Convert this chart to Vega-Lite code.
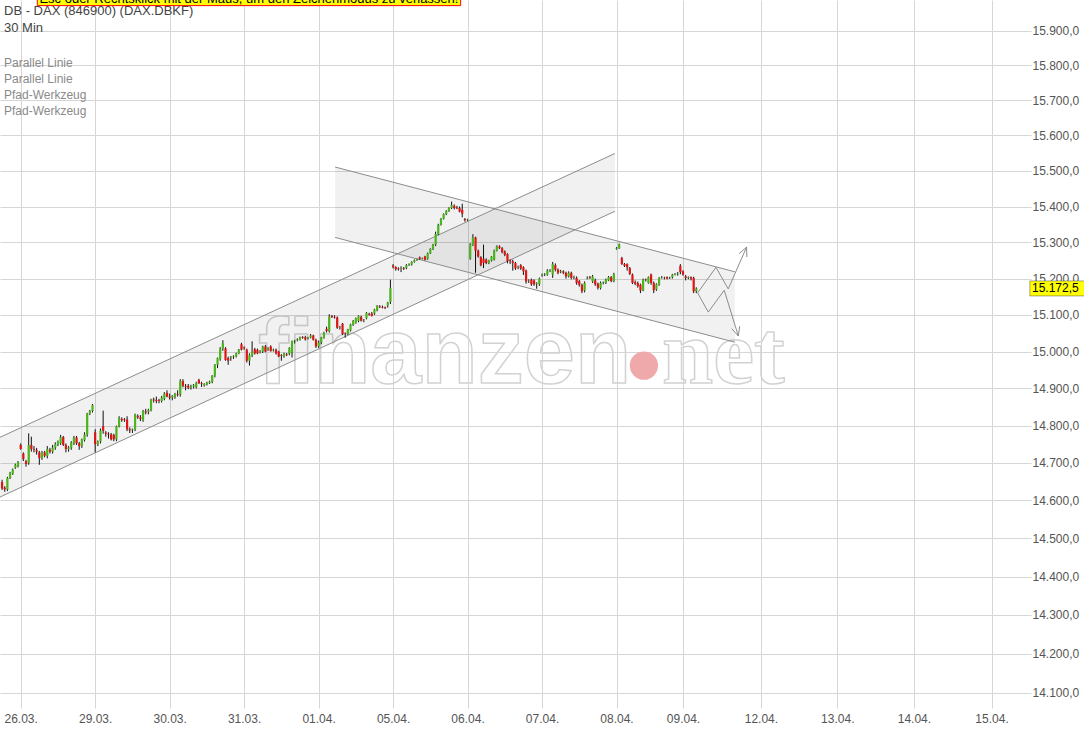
{
"$schema": "https://vega.github.io/schema/vega-lite/v6.json",
"width": 1028, "height": 708,
"autosize": {"type": "none"},
"padding": {"left": 0, "top": 0, "right": 56, "bottom": 23},
"background": "#ffffff",
"config": {"view": {"stroke": null}, "font": "Liberation Sans", "scale": {"continuousPadding": 0}},
"datasets": {
"candles": [
{"s":-7,"o":14649,"h":14655,"l":14628,"c":14632},{"s":-6,"o":14634,"h":14638,"l":14623,"c":14630},{"s":-5,"o":14629,"h":14663,"l":14625,"c":14660},{"s":-4,"o":14660,"h":14676,"l":14657,"c":14673},{"s":-3,"o":14671,"h":14685,"l":14668,"c":14682},{"s":-2,"o":14687,"h":14698,"l":14684,"c":14695},{"s":-1,"o":14691,"h":14705,"l":14688,"c":14702},
{"s":0,"o":14748,"h":14752,"l":14735,"c":14737},{"s":1,"o":14725,"h":14728,"l":14705,"c":14710},{"s":2,"o":14704,"h":14708,"l":14690,"c":14697},{"s":3,"o":14700,"h":14779,"l":14695,"c":14748},{"s":4,"o":14748,"h":14770,"l":14730,"c":14737},{"s":5,"o":14737,"h":14745,"l":14728,"c":14735},{"s":6,"o":14734,"h":14740,"l":14722,"c":14730},{"s":7,"o":14728,"h":14732,"l":14695,"c":14713},{"s":8,"o":14713,"h":14732,"l":14708,"c":14728},{"s":9,"o":14728,"h":14732,"l":14715,"c":14719},{"s":10,"o":14719,"h":14745,"l":14712,"c":14737},{"s":11,"o":14735,"h":14740,"l":14725,"c":14730},{"s":12,"o":14730,"h":14748,"l":14725,"c":14741},{"s":13,"o":14741,"h":14755,"l":14735,"c":14750},{"s":14,"o":14750,"h":14760,"l":14745,"c":14757},{"s":15,"o":14752,"h":14775,"l":14748,"c":14769},{"s":16,"o":14769,"h":14772,"l":14745,"c":14748},{"s":17,"o":14748,"h":14752,"l":14728,"c":14737},{"s":18,"o":14737,"h":14745,"l":14730,"c":14741},{"s":19,"o":14741,"h":14758,"l":14735,"c":14754},{"s":20,"o":14752,"h":14772,"l":14748,"c":14768},{"s":21,"o":14768,"h":14772,"l":14748,"c":14752},{"s":22,"o":14752,"h":14756,"l":14735,"c":14745},{"s":23,"o":14745,"h":14765,"l":14740,"c":14763},{"s":24,"o":14761,"h":14782,"l":14757,"c":14776},{"s":25,"o":14776,"h":14834,"l":14770,"c":14832},{"s":26,"o":14832,"h":14842,"l":14828,"c":14839},{"s":27,"o":14839,"h":14858,"l":14835,"c":14855},
{"s":28,"o":14782,"h":14790,"l":14728,"c":14750},{"s":29,"o":14750,"h":14760,"l":14745,"c":14757},{"s":30,"o":14757,"h":14792,"l":14752,"c":14787},{"s":31,"o":14798,"h":14840,"l":14778,"c":14786},{"s":32,"o":14781,"h":14785,"l":14770,"c":14778},{"s":33,"o":14778,"h":14782,"l":14765,"c":14776},{"s":34,"o":14776,"h":14780,"l":14760,"c":14763},{"s":35,"o":14775,"h":14778,"l":14758,"c":14763},{"s":36,"o":14763,"h":14800,"l":14758,"c":14798},{"s":37,"o":14798,"h":14825,"l":14795,"c":14820},{"s":38,"o":14818,"h":14822,"l":14810,"c":14815},{"s":39,"o":14816,"h":14820,"l":14810,"c":14814},{"s":40,"o":14816,"h":14825,"l":14785,"c":14790},{"s":41,"o":14790,"h":14795,"l":14780,"c":14787},{"s":42,"o":14788,"h":14792,"l":14780,"c":14790},{"s":43,"o":14790,"h":14832,"l":14785,"c":14830},{"s":44,"o":14826,"h":14830,"l":14818,"c":14822},{"s":45,"o":14822,"h":14828,"l":14812,"c":14818},{"s":46,"o":14814,"h":14842,"l":14810,"c":14839},{"s":47,"o":14838,"h":14845,"l":14830,"c":14835},{"s":48,"o":14837,"h":14845,"l":14830,"c":14841},{"s":49,"o":14841,"h":14872,"l":14838,"c":14870},{"s":50,"o":14870,"h":14875,"l":14862,"c":14868},{"s":51,"o":14869,"h":14878,"l":14860,"c":14866},{"s":52,"o":14868,"h":14872,"l":14860,"c":14866},{"s":53,"o":14866,"h":14880,"l":14862,"c":14875},{"s":54,"o":14872,"h":14890,"l":14868,"c":14886},{"s":55,"o":14888,"h":14895,"l":14876,"c":14878},
{"s":56,"o":14878,"h":14886,"l":14870,"c":14875},{"s":57,"o":14875,"h":14882,"l":14868,"c":14880},{"s":58,"o":14878,"h":14888,"l":14872,"c":14885},{"s":59,"o":14885,"h":14895,"l":14878,"c":14883},{"s":60,"o":14884,"h":14925,"l":14878,"c":14920},{"s":61,"o":14920,"h":14925,"l":14903,"c":14907},{"s":62,"o":14906,"h":14912,"l":14895,"c":14904},{"s":63,"o":14907,"h":14912,"l":14898,"c":14902},{"s":64,"o":14903,"h":14910,"l":14897,"c":14906},{"s":65,"o":14905,"h":14912,"l":14900,"c":14909},{"s":66,"o":14904,"h":14918,"l":14900,"c":14915},{"s":67,"o":14923,"h":14926,"l":14912,"c":14914},{"s":68,"o":14914,"h":14918,"l":14904,"c":14912},{"s":69,"o":14909,"h":14914,"l":14905,"c":14912},{"s":70,"o":14911,"h":14918,"l":14908,"c":14916},{"s":71,"o":14914,"h":14921,"l":14912,"c":14918},{"s":72,"o":14918,"h":14936,"l":14914,"c":14935},{"s":73,"o":14935,"h":14966,"l":14930,"c":14964},{"s":74,"o":14964,"h":14984,"l":14955,"c":14982},{"s":75,"o":14980,"h":15012,"l":14975,"c":15008},{"s":76,"o":15008,"h":15031,"l":15002,"c":15023},{"s":77,"o":15009,"h":15012,"l":14975,"c":14977},{"s":78,"o":14982,"h":14986,"l":14964,"c":14975},{"s":79,"o":14984,"h":14988,"l":14975,"c":14986},{"s":80,"o":14985,"h":14990,"l":14980,"c":14987},{"s":81,"o":14987,"h":14997,"l":14984,"c":14995},{"s":82,"o":14995,"h":15007,"l":14993,"c":15005},{"s":83,"o":15020,"h":15024,"l":15003,"c":15005},
{"s":84,"o":15011,"h":15014,"l":15005,"c":15009},{"s":85,"o":15005,"h":15008,"l":14970,"c":14975},{"s":86,"o":14975,"h":14995,"l":14962,"c":14990},{"s":87,"o":14990,"h":15028,"l":14985,"c":15000},{"s":88,"o":15006,"h":15010,"l":14992,"c":14995},{"s":89,"o":15005,"h":15008,"l":14993,"c":14995},{"s":90,"o":14998,"h":15004,"l":14995,"c":15000},{"s":91,"o":15000,"h":15016,"l":14996,"c":15014},{"s":92,"o":15014,"h":15018,"l":14998,"c":15000},{"s":93,"o":15005,"h":15012,"l":15002,"c":15009},{"s":94,"o":15014,"h":15017,"l":15000,"c":15001},{"s":95,"o":15003,"h":15008,"l":15000,"c":15005},{"s":96,"o":15005,"h":15008,"l":14992,"c":14995},{"s":97,"o":15000,"h":15002,"l":14985,"c":14987},{"s":98,"o":14990,"h":14993,"l":14975,"c":14988},{"s":99,"o":14987,"h":14997,"l":14983,"c":14995},{"s":100,"o":14992,"h":14996,"l":14988,"c":14990},{"s":101,"o":14994,"h":15012,"l":14990,"c":15010},{"s":102,"o":14998,"h":15030,"l":14984,"c":15028},{"s":103,"o":15028,"h":15032,"l":15022,"c":15030},{"s":104,"o":15031,"h":15036,"l":15028,"c":15033},{"s":105,"o":15032,"h":15041,"l":15030,"c":15039},{"s":106,"o":15039,"h":15042,"l":15035,"c":15037},{"s":107,"o":15039,"h":15043,"l":15030,"c":15033},{"s":108,"o":15036,"h":15040,"l":15033,"c":15038},{"s":109,"o":15039,"h":15048,"l":15036,"c":15044},{"s":110,"o":15044,"h":15046,"l":15030,"c":15032},{"s":111,"o":15032,"h":15035,"l":15010,"c":15014},
{"s":112,"o":15014,"h":15030,"l":15010,"c":15025},{"s":113,"o":15025,"h":15040,"l":15020,"c":15038},{"s":114,"o":15038,"h":15054,"l":15035,"c":15052},{"s":115,"o":15062,"h":15068,"l":15052,"c":15056},{"s":116,"o":15056,"h":15102,"l":15052,"c":15095},{"s":117,"o":15097,"h":15100,"l":15092,"c":15094},{"s":118,"o":15095,"h":15099,"l":15090,"c":15093},{"s":119,"o":15093,"h":15096,"l":15062,"c":15065},{"s":120,"o":15066,"h":15070,"l":15060,"c":15067},{"s":121,"o":15076,"h":15078,"l":15045,"c":15048},{"s":122,"o":15050,"h":15052,"l":15038,"c":15049},{"s":123,"o":15047,"h":15062,"l":15045,"c":15061},{"s":124,"o":15058,"h":15076,"l":15055,"c":15074},{"s":125,"o":15073,"h":15086,"l":15070,"c":15084},{"s":126,"o":15079,"h":15093,"l":15076,"c":15091},{"s":127,"o":15084,"h":15099,"l":15080,"c":15097},{"s":128,"o":15095,"h":15098,"l":15082,"c":15084},{"s":129,"o":15085,"h":15089,"l":15080,"c":15087},{"s":130,"o":15091,"h":15108,"l":15088,"c":15106},{"s":131,"o":15103,"h":15106,"l":15098,"c":15101},{"s":132,"o":15104,"h":15108,"l":15096,"c":15097},{"s":133,"o":15104,"h":15117,"l":15100,"c":15115},{"s":134,"o":15113,"h":15127,"l":15110,"c":15125},{"s":135,"o":15123,"h":15127,"l":15119,"c":15121},{"s":136,"o":15122,"h":15126,"l":15118,"c":15120},{"s":137,"o":15121,"h":15123,"l":15116,"c":15119},{"s":138,"o":15125,"h":15136,"l":15120,"c":15134},{"s":139,"o":15136,"h":15197,"l":15130,"c":15175},
{"s":140,"o":15236,"h":15240,"l":15228,"c":15232},{"s":141,"o":15232,"h":15234,"l":15222,"c":15226},{"s":142,"o":15228,"h":15231,"l":15222,"c":15226},{"s":143,"o":15228,"h":15234,"l":15218,"c":15230},{"s":144,"o":15229,"h":15232,"l":15224,"c":15227},{"s":145,"o":15229,"h":15240,"l":15226,"c":15237},{"s":146,"o":15237,"h":15242,"l":15235,"c":15239},{"s":147,"o":15239,"h":15248,"l":15236,"c":15246},{"s":148,"o":15246,"h":15253,"l":15244,"c":15251},{"s":149,"o":15251,"h":15255,"l":15249,"c":15253},{"s":150,"o":15259,"h":15261,"l":15252,"c":15255},{"s":151,"o":15255,"h":15258,"l":15253,"c":15257},{"s":152,"o":15261,"h":15263,"l":15250,"c":15252},{"s":153,"o":15255,"h":15272,"l":15252,"c":15270},{"s":154,"o":15270,"h":15284,"l":15268,"c":15282},{"s":155,"o":15282,"h":15296,"l":15279,"c":15294},{"s":156,"o":15294,"h":15330,"l":15290,"c":15323},{"s":157,"o":15323,"h":15352,"l":15320,"c":15349},{"s":158,"o":15349,"h":15368,"l":15347,"c":15366},{"s":159,"o":15366,"h":15381,"l":15364,"c":15379},{"s":160,"o":15379,"h":15390,"l":15376,"c":15388},{"s":161,"o":15388,"h":15398,"l":15385,"c":15396},{"s":162,"o":15396,"h":15414,"l":15393,"c":15404},{"s":163,"o":15402,"h":15406,"l":15392,"c":15396},{"s":164,"o":15397,"h":15402,"l":15393,"c":15395},{"s":165,"o":15396,"h":15400,"l":15384,"c":15386},{"s":166,"o":15391,"h":15408,"l":15370,"c":15380},{"s":167,"o":15365,"h":15368,"l":15358,"c":15362},
{"s":168,"o":15362,"h":15366,"l":15360,"c":15364},{"s":169,"o":15255,"h":15298,"l":15252,"c":15294},{"s":170,"o":15292,"h":15323,"l":15290,"c":15314},{"s":171,"o":15314,"h":15316,"l":15216,"c":15277},{"s":172,"o":15277,"h":15280,"l":15258,"c":15261},{"s":173,"o":15259,"h":15262,"l":15234,"c":15237},{"s":174,"o":15255,"h":15294,"l":15229,"c":15243},{"s":175,"o":15252,"h":15256,"l":15240,"c":15243},{"s":176,"o":15243,"h":15252,"l":15240,"c":15250},{"s":177,"o":15250,"h":15262,"l":15247,"c":15261},{"s":178,"o":15252,"h":15280,"l":15250,"c":15277},{"s":179,"o":15277,"h":15292,"l":15275,"c":15289},{"s":180,"o":15289,"h":15292,"l":15282,"c":15284},{"s":181,"o":15284,"h":15287,"l":15270,"c":15273},{"s":182,"o":15275,"h":15278,"l":15262,"c":15266},{"s":183,"o":15268,"h":15270,"l":15242,"c":15248},{"s":184,"o":15250,"h":15253,"l":15240,"c":15248},{"s":185,"o":15248,"h":15252,"l":15222,"c":15243},{"s":186,"o":15243,"h":15246,"l":15224,"c":15228},{"s":187,"o":15231,"h":15236,"l":15226,"c":15232},{"s":188,"o":15237,"h":15240,"l":15224,"c":15228},{"s":189,"o":15231,"h":15234,"l":15210,"c":15220},{"s":190,"o":15222,"h":15225,"l":15186,"c":15192},{"s":191,"o":15193,"h":15198,"l":15188,"c":15194},{"s":192,"o":15197,"h":15200,"l":15180,"c":15184},{"s":193,"o":15195,"h":15198,"l":15180,"c":15184},{"s":194,"o":15186,"h":15190,"l":15172,"c":15188},{"s":195,"o":15184,"h":15203,"l":15180,"c":15200},
{"s":196,"o":15209,"h":15214,"l":15205,"c":15211},{"s":197,"o":15211,"h":15215,"l":15207,"c":15212},{"s":198,"o":15211,"h":15226,"l":15208,"c":15222},{"s":199,"o":15222,"h":15226,"l":15218,"c":15223},{"s":200,"o":15211,"h":15246,"l":15202,"c":15240},{"s":201,"o":15237,"h":15242,"l":15220,"c":15225},{"s":202,"o":15225,"h":15228,"l":15212,"c":15216},{"s":203,"o":15218,"h":15224,"l":15215,"c":15220},{"s":204,"o":15220,"h":15223,"l":15212,"c":15216},{"s":205,"o":15216,"h":15219,"l":15200,"c":15206},{"s":206,"o":15206,"h":15220,"l":15203,"c":15216},{"s":207,"o":15216,"h":15219,"l":15198,"c":15202},{"s":208,"o":15203,"h":15208,"l":15198,"c":15204},{"s":209,"o":15202,"h":15206,"l":15183,"c":15188},{"s":210,"o":15193,"h":15196,"l":15178,"c":15183},{"s":211,"o":15183,"h":15186,"l":15160,"c":15165},{"s":212,"o":15167,"h":15192,"l":15162,"c":15188},{"s":213,"o":15200,"h":15206,"l":15198,"c":15202},{"s":214,"o":15205,"h":15207,"l":15199,"c":15203},{"s":215,"o":15192,"h":15210,"l":15188,"c":15206},{"s":216,"o":15195,"h":15200,"l":15180,"c":15184},{"s":217,"o":15186,"h":15189,"l":15170,"c":15175},{"s":218,"o":15174,"h":15192,"l":15170,"c":15188},{"s":219,"o":15188,"h":15192,"l":15184,"c":15189},{"s":220,"o":15188,"h":15200,"l":15185,"c":15197},{"s":221,"o":15195,"h":15207,"l":15193,"c":15204},{"s":222,"o":15204,"h":15207,"l":15190,"c":15193},{"s":223,"o":15193,"h":15216,"l":15190,"c":15213},
{"s":224,"o":15282,"h":15287,"l":15280,"c":15284},{"s":225,"o":15284,"h":15297,"l":15282,"c":15295},{"s":226,"o":15257,"h":15260,"l":15238,"c":15240},{"s":227,"o":15240,"h":15243,"l":15232,"c":15235},{"s":228,"o":15240,"h":15242,"l":15222,"c":15231},{"s":229,"o":15229,"h":15232,"l":15210,"c":15213},{"s":230,"o":15211,"h":15214,"l":15185,"c":15188},{"s":231,"o":15190,"h":15195,"l":15182,"c":15186},{"s":232,"o":15188,"h":15192,"l":15175,"c":15179},{"s":233,"o":15183,"h":15186,"l":15160,"c":15167},{"s":234,"o":15167,"h":15200,"l":15165,"c":15197},{"s":235,"o":15197,"h":15200,"l":15192,"c":15196},{"s":236,"o":15188,"h":15206,"l":15186,"c":15204},{"s":237,"o":15211,"h":15214,"l":15183,"c":15188},{"s":238,"o":15188,"h":15192,"l":15160,"c":15168},{"s":239,"o":15170,"h":15187,"l":15166,"c":15184},{"s":240,"o":15184,"h":15204,"l":15180,"c":15202},{"s":241,"o":15203,"h":15207,"l":15200,"c":15204},{"s":242,"o":15202,"h":15205,"l":15198,"c":15201},{"s":243,"o":15204,"h":15206,"l":15198,"c":15200},{"s":244,"o":15202,"h":15205,"l":15199,"c":15203},{"s":245,"o":15204,"h":15213,"l":15200,"c":15211},{"s":246,"o":15212,"h":15215,"l":15209,"c":15213},{"s":247,"o":15212,"h":15218,"l":15208,"c":15214},{"s":248,"o":15235,"h":15240,"l":15212,"c":15218},
{"s":249,"o":15220,"h":15223,"l":15208,"c":15211},{"s":250,"o":15206,"h":15210,"l":15195,"c":15202},{"s":251,"o":15202,"h":15206,"l":15198,"c":15204},{"s":252,"o":15204,"h":15206,"l":15195,"c":15200},{"s":253,"o":15202,"h":15205,"l":15160,"c":15165},{"s":254,"o":15165,"h":15176,"l":15160,"c":15172.5}
],
"bands": [
{"id":"up","s":-7.78,"top":14768.4,"bot":14609.1},{"id":"up","s":223.4,"top":15549.1,"bot":15386.9},
{"id":"dn","s":118.2,"top":15510.9,"bot":15314.0},{"id":"dn","s":268.5,"top":15218.8,"bot":15025.5}
],
"lines": [
{"id":"up_top","k":0,"s":-7.78,"p":14768.4},{"id":"up_top","k":1,"s":223.4,"p":15549.1},
{"id":"up_bot","k":0,"s":-7.78,"p":14609.1},{"id":"up_bot","k":1,"s":223.4,"p":15386.9},
{"id":"dn_top","k":0,"s":118.2,"p":15510.9},{"id":"dn_top","k":1,"s":268.5,"p":15218.8},
{"id":"dn_bot","k":0,"s":118.2,"p":15314.0},{"id":"dn_bot","k":1,"s":268.5,"p":15025.5},
{"id":"path1","k":0,"s":254.5,"p":15160.6},{"id":"path1","k":1,"s":261.4,"p":15231.1},{"id":"path1","k":2,"s":266.0,"p":15171.5},{"id":"path1","k":3,"s":272.9,"p":15287.1},
{"id":"path2","k":0,"s":254.5,"p":15160.6},{"id":"path2","k":1,"s":258.5,"p":15107.8},{"id":"path2","k":2,"s":264.5,"p":15168.0},{"id":"path2","k":3,"s":269.8,"p":15042.4},
{"id":"arrow1","k":0,"s":270.1,"p":15268.9},{"id":"arrow1","k":1,"s":272.9,"p":15287.1},{"id":"arrow1","k":2,"s":273.0,"p":15259.5},
{"id":"arrow2","k":0,"s":267.3,"p":15062.5},{"id":"arrow2","k":1,"s":269.8,"p":15042.4},{"id":"arrow2","k":2,"s":270.3,"p":15069.3}
],
"wm1": [{"w":"finanzen","s":89.2,"p":14916}],
"wm2": [{"w":"net","s":241.1,"p":14916}],
"dot": [{"s":234.3,"p":14961.8}],
"header": [
{"t":"DB - DAX (846900) (DAX.DBKF)","s":-6.28,"p":15946.2},{"t":"30 Min","s":-6.28,"p":15897.1}
],
"tools": [
{"t":"Parallel Linie","s":-6.28,"p":15795.0},{"t":"Parallel Linie","s":-6.28,"p":15749.2},{"t":"Pfad-Werkzeug","s":-6.28,"p":15705.0},{"t":"Pfad-Werkzeug","s":-6.28,"p":15659.4}
],
"banner": [{"t":"Esc oder Rechtsklick mit der Maus, um den Zeichenmodus zu verlassen!","s1":6.24,"s2":165.4,"p1":16031,"p2":15972,"sm":85.8,"pt":15981}],
"last": [{"t":"15.172,5","s1":379.4,"s2":402,"p1":15193.5,"p2":15152.3,"st":380.2,"pm":15172.9}]
},
"layer": [
{
"data": {"name": "wm1"},
"mark": {"type": "text", "align": "left", "baseline": "alphabetic", "font": "Liberation Sans", "fontWeight": "bold", "fontSize": 92, "fillOpacity": 0, "stroke": "#d2d2d2", "strokeWidth": 1.5},
"encoding": {
"x": {"field": "s", "type": "quantitative", "scale": {"domain": [-7.78, 378.7], "nice": false, "zero": false, "padding": 0},
"axis": {"values": [0,28,56,84,112,140,168,196,224,249,278.3,307,335.8,365], "grid": true, "gridColor": "#d6d6d6", "domain": false, "ticks": false, "labelPadding": 5, "labelFlush": false, "labelOverlap": false, "labelColor": "#555555", "labelFontSize": 12, "labelFont": "Liberation Sans", "title": null,
"labelExpr": "['26.03.','29.03.','30.03.','31.03.','01.04.','05.04.','06.04.','07.04.','08.04.','09.04.','12.04.','13.04.','14.04.','15.04.'][indexof([0,28,56,84,112,140,168,196,224,249,278.3,307,335.8,365], datum.value)]"}},
"y": {"field": "p", "type": "quantitative", "scale": {"type": "log", "domain": [14060.4, 15988.3], "nice": false, "zero": false},
"axis": {"orient": "right", "values": [14100,14200,14300,14400,14500,14600,14700,14800,14900,15000,15100,15200,15300,15400,15500,15600,15700,15800,15900], "grid": true, "gridColor": "#d6d6d6", "domain": false, "tickColor": "#d6d6d6", "tickSize": 3, "labelPadding": 1, "labelColor": "#555555", "labelFontSize": 12, "labelFont": "Liberation Sans", "title": null,
"labelExpr": "replace(replace(replace(format(datum.value, ',.1f'), ',', '#'), '.', ','), '#', '.')"}},
"text": {"field": "w"}
}
},
{
"data": {"name": "wm2"},
"mark": {"type": "text", "align": "left", "baseline": "alphabetic", "font": "Liberation Sans Narrow", "fontWeight": "bold", "fontSize": 92, "fillOpacity": 0, "stroke": "#d2d2d2", "strokeWidth": 1.5},
"encoding": {"x": {"field": "s", "type": "quantitative", "scale": {"domain": [-7.78, 378.7], "nice": false, "zero": false, "padding": 0}, "axis": {"title": null}}, "y": {"field": "p", "type": "quantitative", "scale": {"type": "log", "domain": [14060.4, 15988.3], "nice": false, "zero": false}, "axis": {"title": null}}, "text": {"field": "w"}}
},
{
"data": {"name": "dot"},
"mark": {"type": "point", "filled": true, "shape": "circle", "size": 800, "color": "#efa9aa", "opacity": 1},
"encoding": {"x": {"field": "s", "type": "quantitative", "scale": {"domain": [-7.78, 378.7], "nice": false, "zero": false, "padding": 0}, "axis": {"title": null}}, "y": {"field": "p", "type": "quantitative", "scale": {"type": "log", "domain": [14060.4, 15988.3], "nice": false, "zero": false}, "axis": {"title": null}}}
},
{
"data": {"name": "bands"},
"mark": {"type": "area", "color": "#000000", "fillOpacity": 0.055, "interpolate": "linear"},
"encoding": {"x": {"field": "s", "type": "quantitative", "scale": {"domain": [-7.78, 378.7], "nice": false, "zero": false, "padding": 0}, "axis": {"title": null}}, "y": {"field": "top", "type": "quantitative", "scale": {"type": "log", "domain": [14060.4, 15988.3], "nice": false, "zero": false}, "axis": {"title": null}}, "y2": {"field": "bot"}, "detail": {"field": "id"}}
},
{
"data": {"name": "lines"},
"mark": {"type": "line", "color": "#8c8c8c", "strokeWidth": 1},
"encoding": {"x": {"field": "s", "type": "quantitative", "scale": {"domain": [-7.78, 378.7], "nice": false, "zero": false, "padding": 0}, "axis": {"title": null}}, "y": {"field": "p", "type": "quantitative", "scale": {"type": "log", "domain": [14060.4, 15988.3], "nice": false, "zero": false}, "axis": {"title": null}}, "detail": {"field": "id"}, "order": {"field": "k"}}
},
{
"data": {"name": "candles"},
"mark": {"type": "rule", "color": "#111111", "strokeWidth": 1},
"encoding": {"x": {"field": "s", "type": "quantitative", "scale": {"domain": [-7.78, 378.7], "nice": false, "zero": false, "padding": 0}, "axis": {"title": null}}, "y": {"field": "l", "type": "quantitative", "scale": {"type": "log", "domain": [14060.4, 15988.3], "nice": false, "zero": false}, "axis": {"title": null}}, "y2": {"field": "h"}}
},
{
"data": {"name": "candles"},
"mark": {"type": "bar", "size": 2.2},
"encoding": {"x": {"field": "s", "type": "quantitative", "scale": {"domain": [-7.78, 378.7], "nice": false, "zero": false, "padding": 0}, "axis": {"title": null}}, "y": {"field": "o", "type": "quantitative", "scale": {"type": "log", "domain": [14060.4, 15988.3], "nice": false, "zero": false}, "axis": {"title": null}}, "y2": {"field": "c"},
"color": {"condition": {"test": "datum.c >= datum.o", "value": "#4cb51b"}, "value": "#dd1515"}}
},
{
"data": {"name": "header"},
"mark": {"type": "text", "align": "left", "baseline": "alphabetic", "fontSize": 13, "color": "#444444", "font": "Liberation Sans"},
"encoding": {"x": {"field": "s", "type": "quantitative", "scale": {"domain": [-7.78, 378.7], "nice": false, "zero": false, "padding": 0}, "axis": {"title": null}}, "y": {"field": "p", "type": "quantitative", "scale": {"type": "log", "domain": [14060.4, 15988.3], "nice": false, "zero": false}, "axis": {"title": null}}, "text": {"field": "t"}}
},
{
"data": {"name": "tools"},
"mark": {"type": "text", "align": "left", "baseline": "alphabetic", "fontSize": 12, "color": "#8a8a8a", "font": "Liberation Sans"},
"encoding": {"x": {"field": "s", "type": "quantitative", "scale": {"domain": [-7.78, 378.7], "nice": false, "zero": false, "padding": 0}, "axis": {"title": null}}, "y": {"field": "p", "type": "quantitative", "scale": {"type": "log", "domain": [14060.4, 15988.3], "nice": false, "zero": false}, "axis": {"title": null}}, "text": {"field": "t"}}
},
{
"data": {"name": "banner"},
"mark": {"type": "rect", "color": "#ffff00", "stroke": "#ff0000", "strokeWidth": 1},
"encoding": {"x": {"field": "s1", "type": "quantitative", "scale": {"domain": [-7.78, 378.7], "nice": false, "zero": false, "padding": 0}, "axis": {"title": null}}, "x2": {"field": "s2"}, "y": {"field": "p1", "type": "quantitative", "scale": {"type": "log", "domain": [14060.4, 15988.3], "nice": false, "zero": false}, "axis": {"title": null}}, "y2": {"field": "p2"}}
},
{
"data": {"name": "banner"},
"mark": {"type": "text", "align": "center", "baseline": "alphabetic", "fontSize": 13, "color": "#000000", "font": "Liberation Sans"},
"encoding": {"x": {"field": "sm", "type": "quantitative", "scale": {"domain": [-7.78, 378.7], "nice": false, "zero": false, "padding": 0}, "axis": {"title": null}}, "y": {"field": "pt", "type": "quantitative", "scale": {"type": "log", "domain": [14060.4, 15988.3], "nice": false, "zero": false}, "axis": {"title": null}}, "text": {"field": "t"}}
},
{
"data": {"name": "last"},
"mark": {"type": "rect", "color": "#ffff00", "stroke": "#555555", "strokeWidth": 0.5},
"encoding": {"x": {"field": "s1", "type": "quantitative", "scale": {"domain": [-7.78, 378.7], "nice": false, "zero": false, "padding": 0}, "axis": {"title": null}}, "x2": {"field": "s2"}, "y": {"field": "p1", "type": "quantitative", "scale": {"type": "log", "domain": [14060.4, 15988.3], "nice": false, "zero": false}, "axis": {"title": null}}, "y2": {"field": "p2"}}
},
{
"data": {"name": "last"},
"mark": {"type": "text", "align": "left", "baseline": "middle", "fontSize": 12, "color": "#000000", "font": "Liberation Sans"},
"encoding": {"x": {"field": "st", "type": "quantitative", "scale": {"domain": [-7.78, 378.7], "nice": false, "zero": false, "padding": 0}, "axis": {"title": null}}, "y": {"field": "pm", "type": "quantitative", "scale": {"type": "log", "domain": [14060.4, 15988.3], "nice": false, "zero": false}, "axis": {"title": null}}, "text": {"field": "t"}}
}
]
}
